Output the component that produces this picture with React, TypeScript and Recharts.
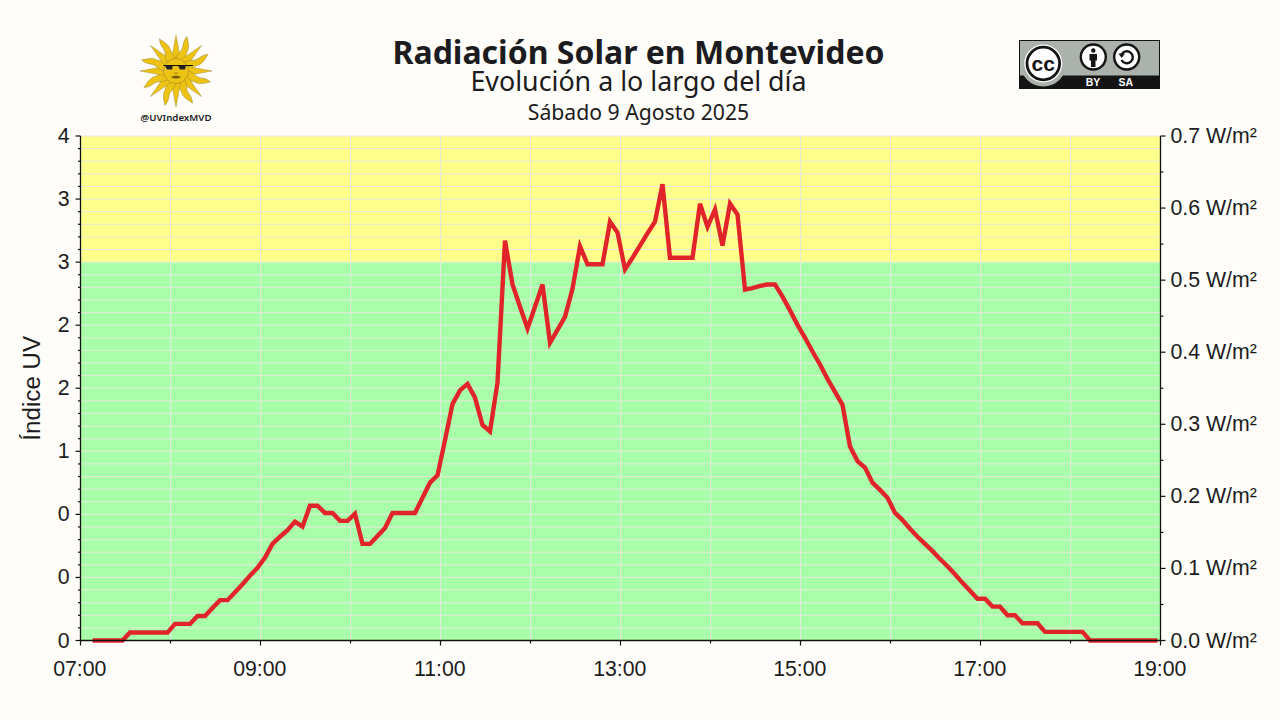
import React from "react";
import { LineChart, Line, XAxis, YAxis, CartesianGrid, ReferenceArea } from "recharts";

const minutes = [
  428, 433, 438, 443, 448, 453, 458, 463, 468, 473, 478, 483, 488, 493, 498, 503, 508, 513, 518, 523,
  528, 533, 538, 543, 548, 553, 558, 563, 568, 573, 578, 583, 588, 593, 598, 603, 608, 613, 618, 623,
  628, 633, 638, 643, 648, 653, 658, 663, 668, 673, 678, 683, 688, 693, 698, 703, 708, 713, 718, 723,
  728, 733, 738, 743, 748, 753, 758, 763, 768, 773, 778, 783, 788, 793, 798, 803, 808, 813, 818, 823,
  828, 833, 838, 843, 848, 853, 858, 863, 868, 873, 878, 883, 888, 893, 898, 903, 908, 913, 918, 923,
  928, 933, 938, 943, 948, 953, 958, 963, 968, 973, 978, 983, 988, 993, 998, 1003, 1008, 1013, 1018, 1023,
  1028, 1033, 1038, 1043, 1048, 1053, 1058, 1063, 1068, 1073, 1078, 1083, 1088, 1093, 1098, 1103, 1108, 1113, 1118, 1123,
  1128, 1133, 1138,
];
const radiation = [
  0, 0, 0, 0, 0, 0.011, 0.011, 0.011, 0.011, 0.011, 0.011, 0.023, 0.023, 0.023, 0.034, 0.034, 0.045, 0.056, 0.056, 0.067,
  0.078, 0.09, 0.101, 0.115, 0.134, 0.144, 0.153, 0.165, 0.158, 0.187, 0.187, 0.177, 0.177, 0.166, 0.166, 0.176, 0.134, 0.134, 0.145, 0.156,
  0.177, 0.177, 0.177, 0.177, 0.198, 0.219, 0.229, 0.278, 0.328, 0.347, 0.356, 0.337, 0.299, 0.29, 0.358, 0.555, 0.494, 0.463, 0.433, 0.463,
  0.494, 0.413, 0.431, 0.449, 0.488, 0.547, 0.522, 0.522, 0.522, 0.581, 0.566, 0.515, 0.531, 0.548, 0.565, 0.581, 0.633, 0.531, 0.531, 0.531,
  0.531, 0.606, 0.574, 0.598, 0.548, 0.606, 0.591, 0.487, 0.489, 0.492, 0.494, 0.494, 0.477, 0.458, 0.438, 0.42, 0.401, 0.383, 0.363, 0.345,
  0.327, 0.269, 0.249, 0.24, 0.219, 0.209, 0.198, 0.177, 0.167, 0.155, 0.144, 0.134, 0.124, 0.113, 0.103, 0.092, 0.08, 0.069, 0.058, 0.058,
  0.047, 0.047, 0.035, 0.035, 0.024, 0.024, 0.024, 0.012, 0.012, 0.012, 0.012, 0.012, 0.012, 0, 0, 0, 0, 0, 0, 0,
  0, 0, 0,
];
const hourTicks = [420, 480, 540, 600, 660, 720, 780, 840, 900, 960, 1020, 1080, 1140];
const hourLabels = ["07:00", "", "09:00", "", "11:00", "", "13:00", "", "15:00", "", "17:00", "", "19:00"];
const leftTicks = [
  0, 0.1, 0.2, 0.3, 0.4, 0.5, 0.6, 0.7, 0.8, 0.9, 1, 1.1, 1.2, 1.3, 1.4, 1.5, 1.6, 1.7, 1.8, 1.9, 2,
  2.1, 2.2, 2.3, 2.4, 2.5, 2.6, 2.7, 2.8, 2.9, 3, 3.1, 3.2, 3.3, 3.4, 3.5, 3.6, 3.7, 3.8, 3.9, 4,
];
const leftLabels = ["0", "0", "0", "1", "2", "2", "3", "3", "4"];
const rightTicks = [0, 0.05, 0.1, 0.15, 0.2, 0.25, 0.3, 0.35, 0.4, 0.45, 0.5, 0.55, 0.6, 0.65, 0.7];
const rightLabels = ["0.0 W/m²", "0.1 W/m²", "0.2 W/m²", "0.3 W/m²", "0.4 W/m²", "0.5 W/m²", "0.6 W/m²", "0.7 W/m²"];

const chartData = minutes.map((m, i) => ({ minute: m, radiation: radiation[i] }));

const INK = "#1b1b20";
const AXIS_FONT = "'Liberation Sans', Arial, sans-serif";
const TITLE_FONT = "'Noto Sans', sans-serif";
const TICK_SIZE = 21.3;

const XTick = (p: any) => {
  const label = hourLabels[p.index];
  return (
    <g>
      <line x1={p.x} x2={p.x} y1={p.y} y2={p.y + (label ? 5 : 3)} stroke="#111" strokeWidth={1.2} />
      {label ? (
        <text x={p.x - 0.7} y={p.y + 35} textAnchor="middle" fontSize={TICK_SIZE} fontFamily={AXIS_FONT} fill={INK}>
          {label}
        </text>
      ) : null}
    </g>
  );
};
const LeftTick = (p: any) => {
  const major = p.index % 5 === 0;
  return (
    <g>
      <line x1={p.x - (major ? 5 : 2.5)} x2={p.x} y1={p.y} y2={p.y} stroke="#111" strokeWidth={1.2} />
      {major ? (
        <text x={p.x - 11} y={p.y + 7} textAnchor="end" fontSize={TICK_SIZE} fontFamily={AXIS_FONT} fill={INK}>
          {leftLabels[p.index / 5]}
        </text>
      ) : null}
    </g>
  );
};
const RightTick = (p: any) => {
  const major = p.index % 2 === 0;
  return (
    <g>
      <line x1={p.x} x2={p.x + (major ? 5 : 3)} y1={p.y} y2={p.y} stroke="#111" strokeWidth={1.2} />
      {major ? (
        <text x={p.x + 10} y={p.y + 7} textAnchor="start" fontSize={TICK_SIZE} fontFamily={AXIS_FONT} fill={INK}>
          {rightLabels[p.index / 2]}
        </text>
      ) : null}
    </g>
  );
};

const rayAngles = [0, 22.5, 45, 67.5, 90, 112.5, 135, 157.5, 180, 202.5, 225, 247.5, 270, 292.5, 315, 337.5];

const Sun = () => (
  <g transform="translate(176 71)">
    {rayAngles.map((a, i) =>
      i % 2 === 0 ? (
        <path key={a} transform={`rotate(${a})`} d="M-4.8 -10 L0 -36 L4.8 -10 Z" fill="#eec414" stroke="#8a7a30" strokeWidth={0.4} />
      ) : (
        <path
          key={a}
          transform={`rotate(${a})`}
          d="M-4.5 -10 C-6.5 -16 -1 -21 -3.5 -27 C-4.2 -30 -4 -33 -3 -36 C-0.5 -32 3.5 -28 3 -22 C2.7 -18 4.5 -15 4.5 -10 Z"
          fill="#eec414"
          stroke="#8a7a30"
          strokeWidth={0.4}
        />
      )
    )}
    <circle r={12.5} fill="#eec414" stroke="#8a7a30" strokeWidth={0.5} />
    <path d="M-12.5 -5.5 L17 -5.5" stroke="#111" strokeWidth={1} />
    <path d="M-11 -5.5 L-3 -5.5 L-4 -1.5 L-9 -1.5 Z" fill="#222" />
    <path d="M2 -5.5 L10 -5.5 L9 -1.5 L4 -1.5 Z" fill="#222" />
    <path d="M-5 6 Q0 3.5 5 6 Q0 9 -5 6 Z" fill="#6e5a12" />
    <path d="M-1.5 1 L0 3 L1.5 1" fill="none" stroke="#6e5a12" strokeWidth={0.6} />
  </g>
);

const Badge = () => (
  <g>
    <clipPath id="badgeClip">
      <rect x={1019} y={40} width={141} height={49} />
    </clipPath>
    <rect x={1019} y={40} width={141} height={49} fill="#aab2ab" />
    <rect x={1019} y={75.5} width={141} height={13.5} fill="#141414" />
    <g clipPath="url(#badgeClip)">
      <circle cx={1043.3} cy={63.5} r={23} fill="#aab2ab" />
    </g>
    <rect x={1019.5} y={40.5} width={140} height={48} fill="none" stroke="#141414" strokeWidth={1} />
    <circle cx={1043.3} cy={63.5} r={19} fill="#fff" />
    <circle cx={1043.3} cy={63.5} r={16.3} fill="#fff" stroke="#141414" strokeWidth={2.8} />
    <text x={1043.3} y={70.5} textAnchor="middle" fontSize={21} fontWeight={700} fontFamily={AXIS_FONT} fill="#141414">
      cc
    </text>
    <circle cx={1093.3} cy={57} r={12.5} fill="#fff" stroke="#141414" strokeWidth={2.4} />
    <circle cx={1093.3} cy={50.5} r={2.2} fill="#141414" />
    <path d="M1089.5 54 H1097 V60.5 H1095.5 V67 H1091 V60.5 H1089.5 Z" fill="#141414" />
    <circle cx={1126.7} cy={57} r={12.5} fill="#fff" stroke="#141414" strokeWidth={2.4} />
    <path d="M1121.5 54.5 A6 6 0 1 1 1121.5 60" fill="none" stroke="#141414" strokeWidth={2.4} />
    <path d="M1118.5 53.5 L1125 53.5 L1121.7 58 Z" fill="#141414" />
    <text x={1093} y={86} textAnchor="middle" fontSize={10.5} fontWeight={700} fontFamily={AXIS_FONT} fill="#fff">
      BY
    </text>
    <text x={1125.7} y={86} textAnchor="middle" fontSize={10.5} fontWeight={700} fontFamily={AXIS_FONT} fill="#fff">
      SA
    </text>
  </g>
);

export default function App() {
  return (
    <div style={{ position: "fixed", left: 0, top: 0, width: 1280, height: 720, background: "#fffdf9", overflow: "hidden" }}>
      <svg width={1280} height={720} style={{ position: "absolute", left: 0, top: 0 }}>
        <text x={638.5} y={63.5} textAnchor="middle" fontSize={32} fontWeight={700} fontFamily={TITLE_FONT} fill={INK}>
          Radiación Solar en Montevideo
        </text>
        <text x={638.5} y={91} textAnchor="middle" fontSize={26.8} fontFamily={TITLE_FONT} fill={INK}>
          Evolución a lo largo del día
        </text>
        <text x={638.5} y={120} textAnchor="middle" fontSize={21.2} fontFamily={TITLE_FONT} fill={INK}>
          Sábado 9 Agosto 2025
        </text>
        <Sun />
        <text x={176} y={121} textAnchor="middle" fontSize={9.7} fontWeight={600} fontFamily={TITLE_FONT} fill={INK}>
          @UVIndexMVD
        </text>
        <Badge />
      </svg>
      <div style={{ position: "absolute", left: 0, top: 0 }}>
        <LineChart width={1280} height={720} data={chartData} margin={{ top: 136, right: 0, bottom: 0, left: 0 }}>
          <XAxis
            dataKey="minute"
            type="number"
            domain={[420, 1140]}
            ticks={hourTicks}
            interval={0}
            height={79.5}
            tickLine={false}
            tickSize={0}
            tickMargin={0}
            tick={XTick}
            axisLine={{ stroke: "#111", strokeWidth: 1.3 }}
          />
          <YAxis
            yAxisId="left"
            orientation="left"
            type="number"
            domain={[0, 4]}
            ticks={leftTicks}
            interval={0}
            width={80.5}
            tickLine={false}
            tickSize={0}
            tickMargin={0}
            tick={LeftTick}
            axisLine={{ stroke: "#111", strokeWidth: 1.3 }}
            label={{ value: "Índice UV", angle: -90, position: "insideLeft", offset: 31, textAnchor: "middle", fontSize: 24.2, fontFamily: AXIS_FONT, fill: INK }}
          />
          <YAxis
            yAxisId="right"
            orientation="right"
            type="number"
            domain={[0, 0.7]}
            ticks={rightTicks}
            interval={0}
            width={119.5}
            tickLine={false}
            tickSize={0}
            tickMargin={0}
            tick={RightTick}
            axisLine={{ stroke: "#111", strokeWidth: 1.3 }}
          />
          <ReferenceArea yAxisId="left" y1={0} y2={3} fill="#a9ffa9" fillOpacity={1} stroke="none" zIndex={-200} />
          <ReferenceArea yAxisId="left" y1={3} y2={4} fill="#ffff8c" fillOpacity={1} stroke="none" zIndex={-200} />
          <CartesianGrid yAxisId="left" stroke="#e6e8dc" strokeWidth={1} zIndex={150} />
          <Line yAxisId="left" dataKey="radiation" stroke="none" dot={false} legendType="none" isAnimationActive={false} />
          <Line
            yAxisId="right"
            type="linear"
            dataKey="radiation"
            stroke="#e0242a"
            strokeWidth={4.4}
            dot={false}
            isAnimationActive={false}
            strokeLinejoin="miter"
          />
        </LineChart>
      </div>
    </div>
  );
}
